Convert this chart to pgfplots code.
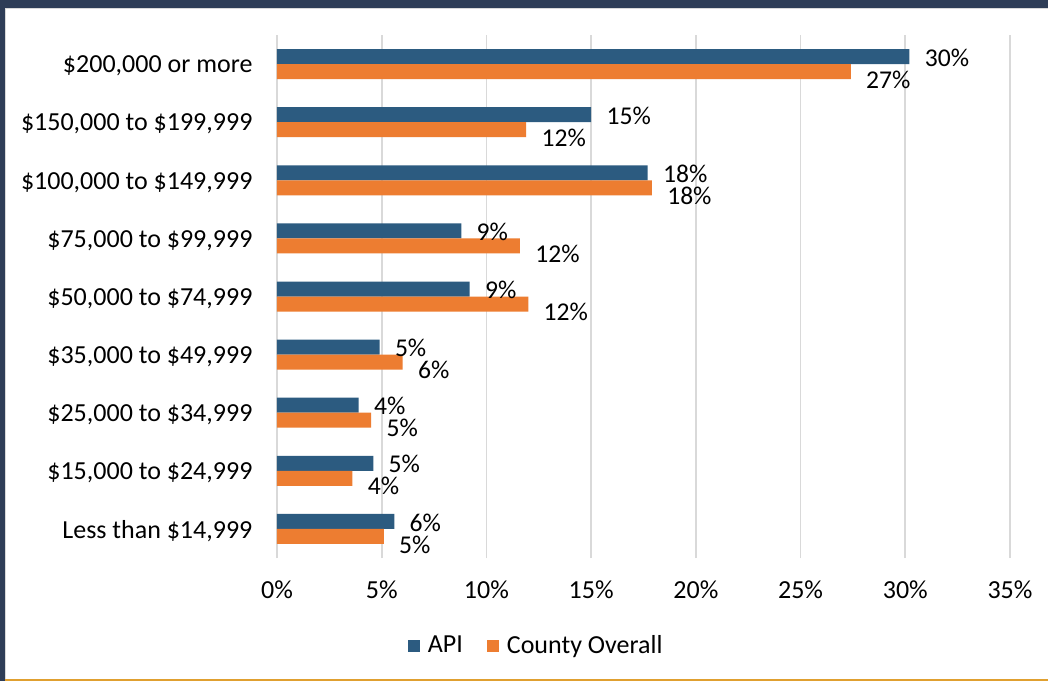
\documentclass[border=0pt]{standalone}
\usepackage{pgfplots}
\pgfplotsset{compat=1.18}
\usepackage{fontspec}
\setmainfont{Carlito}

\definecolor{apiblue}{HTML}{2C5B80}
\definecolor{countyorange}{HTML}{ED7D31}
\definecolor{framenavy}{HTML}{2E3D57}
\definecolor{gridgray}{HTML}{D9D9D9}
\definecolor{edgeorange}{HTML}{E0A030}

\begin{document}
\begin{tikzpicture}
% page frame (1px = 0.5pt, origin at the axis' lower left corner)
\useasboundingbox (-138.5pt,-61.5pt) rectangle (385.5pt,279pt);
\fill[white] (-138.5pt,-61.5pt) rectangle (385.5pt,279pt);
\fill[framenavy] (-138.5pt,275pt) rectangle (385.5pt,279pt);
\fill[framenavy] (-138.5pt,-61.5pt) rectangle (-136pt,279pt);
\fill[gridgray] (-136pt,274.5pt) rectangle (385.5pt,275pt);
\fill[gridgray] (-136pt,-60.5pt) rectangle (-135.5pt,274.5pt);
\fill[edgeorange] (-136pt,-61.5pt) rectangle (385.5pt,-60.5pt);

\begin{axis}[
  at={(0,0)}, anchor=south west,
  scale only axis,
  width=366.5pt, height=261.5pt,
  xbar, bar width=7.5pt,
  xmin=0, xmax=35, ymin=-0.5, ymax=8.5,
  xtick={0,5,...,35},
  xticklabel={\pgfmathprintnumber[assume math mode=true]{\tick}\%},
  ytick={0,...,8},
  yticklabels={{Less than \$14,999}, {\$15,000 to \$24,999}, {\$25,000 to \$34,999},
    {\$35,000 to \$49,999}, {\$50,000 to \$74,999}, {\$75,000 to \$99,999},
    {\$100,000 to \$149,999}, {\$150,000 to \$199,999}, {\$200,000 or more}},
  xmajorgrids, ymajorgrids=false,
  major grid style={gridgray, line width=0.8pt},
  axis line style={draw=none},
  tick style={draw=none},
  font=\fontsize{13}{15.5}\selectfont,
  yticklabel style={xshift=-4.5pt, yshift=-1pt},
  xticklabel style={yshift=-8pt},
  point meta=explicit symbolic,
  nodes near coords={\pgfmathprintnumber[assume math mode=true]{\pgfplotspointmeta}\%},
  nodes near coords style={anchor=west, inner sep=1pt, xshift=6.5pt,
    font=\fontsize{12.8}{15}\selectfont, black},
  legend columns=2,
  legend style={at={(0.355,-0.168)}, anchor=center, draw=none, fill=none,
    font=\fontsize{13}{15.5}\selectfont,
    /tikz/every odd column/.append style={column sep=2pt},
    /tikz/every even column/.append style={column sep=10pt}},
  legend image code/.code={\fill[#1] (0pt,-3pt) rectangle (6pt,3pt);},
]
\addplot[fill=apiblue, draw=none, bar shift=3.75pt,
  nodes near coords style={yshift=-0.5pt}] coordinates {
  (5.6,0) [6]
  (4.6,1) [5]
  (3.9,2) [4]
  (4.9,3) [5]
  (9.2,4) [9]
  (8.8,5) [9]
  (17.7,6) [18]
  (15.0,7) [15]
  (30.2,8) [30]
};
\addlegendentry{API}
\addplot[fill=countyorange, draw=none, bar shift=-3.75pt,
  nodes near coords style={yshift=-4pt}] coordinates {
  (5.1,0) [5]
  (3.6,1) [4]
  (4.5,2) [5]
  (6.0,3) [6]
  (12.0,4) [12]
  (11.6,5) [12]
  (17.9,6) [18]
  (11.9,7) [12]
  (27.4,8) [27]
};
\addlegendentry{County Overall}
\end{axis}
\end{tikzpicture}
\end{document}
